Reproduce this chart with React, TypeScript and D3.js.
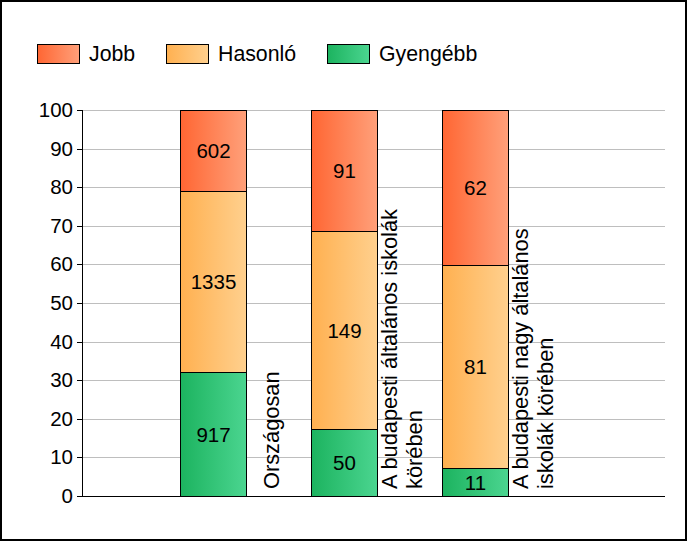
import React from "react";
import * as d3 from "d3";

const categories: string[][] = [
  ["Országosan"],
  ["A budapesti általános iskolák", "körében"],
  ["A budapesti nagy általános", "iskolák körében"],
];
const seriesNames = ["Gyengébb", "Hasonló", "Jobb"];
const gyengebb = [917, 50, 11];
const hasonlo = [1335, 149, 81];
const jobb = [602, 91, 62];
const yTicks = [0, 10, 20, 30, 40, 50, 60, 70, 80, 90, 100];
const legendOrder = ["Jobb", "Hasonló", "Gyengébb"];

const gradients: Record<string, [string, string]> = {
  Jobb: ["#FF6633", "#FFA07A"],
  "Hasonló": ["#FFB050", "#FFD08E"],
  "Gyengébb": ["#1CB35F", "#4BD590"],
};
const gradId: Record<string, string> = { Jobb: "gJ", "Hasonló": "gH", "Gyengébb": "gG" };

const W = 687;
const H = 541;
const FONT = "Arial, 'Liberation Sans', sans-serif";

export default function App() {
  const y = d3.scaleLinear().domain([0, 100]).range([496, 110]);
  const x = d3.scaleLinear().domain([0, 1]).range([82, 213]);
  const barW = 66;
  const plotRight = 665;

  const counts = [gyengebb, hasonlo, jobb];
  const rows = categories.map((_, i) => {
    const obj: Record<string, number> = {};
    const total = gyengebb[i] + hasonlo[i] + jobb[i];
    seriesNames.forEach((s, k) => (obj[s] = (counts[k][i] / total) * 100));
    return obj;
  });
  const stack = d3.stack<Record<string, number>>().keys(seriesNames)(rows);

  const legendX = [37, 166, 327];

  return (
    <svg width={W} height={H} style={{ position: "absolute", left: 0, top: 0 }} fontFamily={FONT}>
      <defs>
        {Object.keys(gradients).map((k) => (
          <linearGradient key={k} id={gradId[k]} x1="0" x2="1" y1="0" y2="0">
            <stop offset="0" stopColor={gradients[k][0]} />
            <stop offset="1" stopColor={gradients[k][1]} />
          </linearGradient>
        ))}
      </defs>
      <rect x={0} y={0} width={W} height={H} fill="#fff" />
      <rect x={1} y={1} width={W - 2} height={H - 2} fill="none" stroke="#000" strokeWidth={2} />

      {/* legend */}
      {legendOrder.map((s, i) => (
        <g key={s}>
          <rect x={legendX[i] + 0.5} y={44.5} width={42} height={19} fill={`url(#${gradId[s]})`} stroke="#000" strokeWidth={1} />
          <text x={legendX[i] + 52} y={61} fontSize={21.3} fill="#000">
            {s}
          </text>
        </g>
      ))}

      {/* grid */}
      {yTicks.map((t) => (
        <g key={t}>
          {t > 0 && (
            <line x1={82} x2={plotRight} y1={Math.round(y(t)) + 0.5} y2={Math.round(y(t)) + 0.5} stroke="#BEBEBE" strokeWidth={1} />
          )}
          <line x1={77} x2={82} y1={Math.round(y(t)) + 0.5} y2={Math.round(y(t)) + 0.5} stroke="#000" />
          <text x={73} y={y(t) + 7} fontSize={20.5} textAnchor="end" fill="#000">
            {t}
          </text>
        </g>
      ))}

      {/* bars */}
      {stack.map((layer) =>
        layer.map((d, i) => {
          const cx = x(i + 1);
          const y0 = Math.round(y(d[0]));
          const y1 = Math.round(y(d[1]));
          const s = layer.key;
          return (
            <g key={s + i}>
              <rect
                x={Math.round(cx - barW / 2) + 0.5}
                y={y1 + 0.5}
                width={barW}
                height={y0 - y1}
                fill={`url(#${gradId[s]})`}
                stroke="#000"
                strokeWidth={1}
              />
              <text x={cx + 0.5} y={(y0 + y1) / 2 + 7.5} fontSize={20.5} textAnchor="middle" fill="#000">
                {counts[seriesNames.indexOf(s)][i]}
              </text>
            </g>
          );
        })
      )}

      {/* axes */}
      <line x1={82.5} x2={82.5} y1={110} y2={497} stroke="#000" />
      <line x1={82} x2={plotRight} y1={496.5} y2={496.5} stroke="#000" />

      {/* category labels */}
      {categories.map((lines, i) => {
        const cx = x(i + 1);
        const lh = 25;
        return lines.map((ln, j) => {
          const bx = cx + 59 - ((lines.length - 1) * lh) / 2 + j * lh + 6.5;
          return (
            <text key={i + "-" + j} transform={`translate(${bx},489) rotate(-90)`} fontSize={21.8} fill="#000">
              {ln}
            </text>
          );
        });
      })}
    </svg>
  );
}
